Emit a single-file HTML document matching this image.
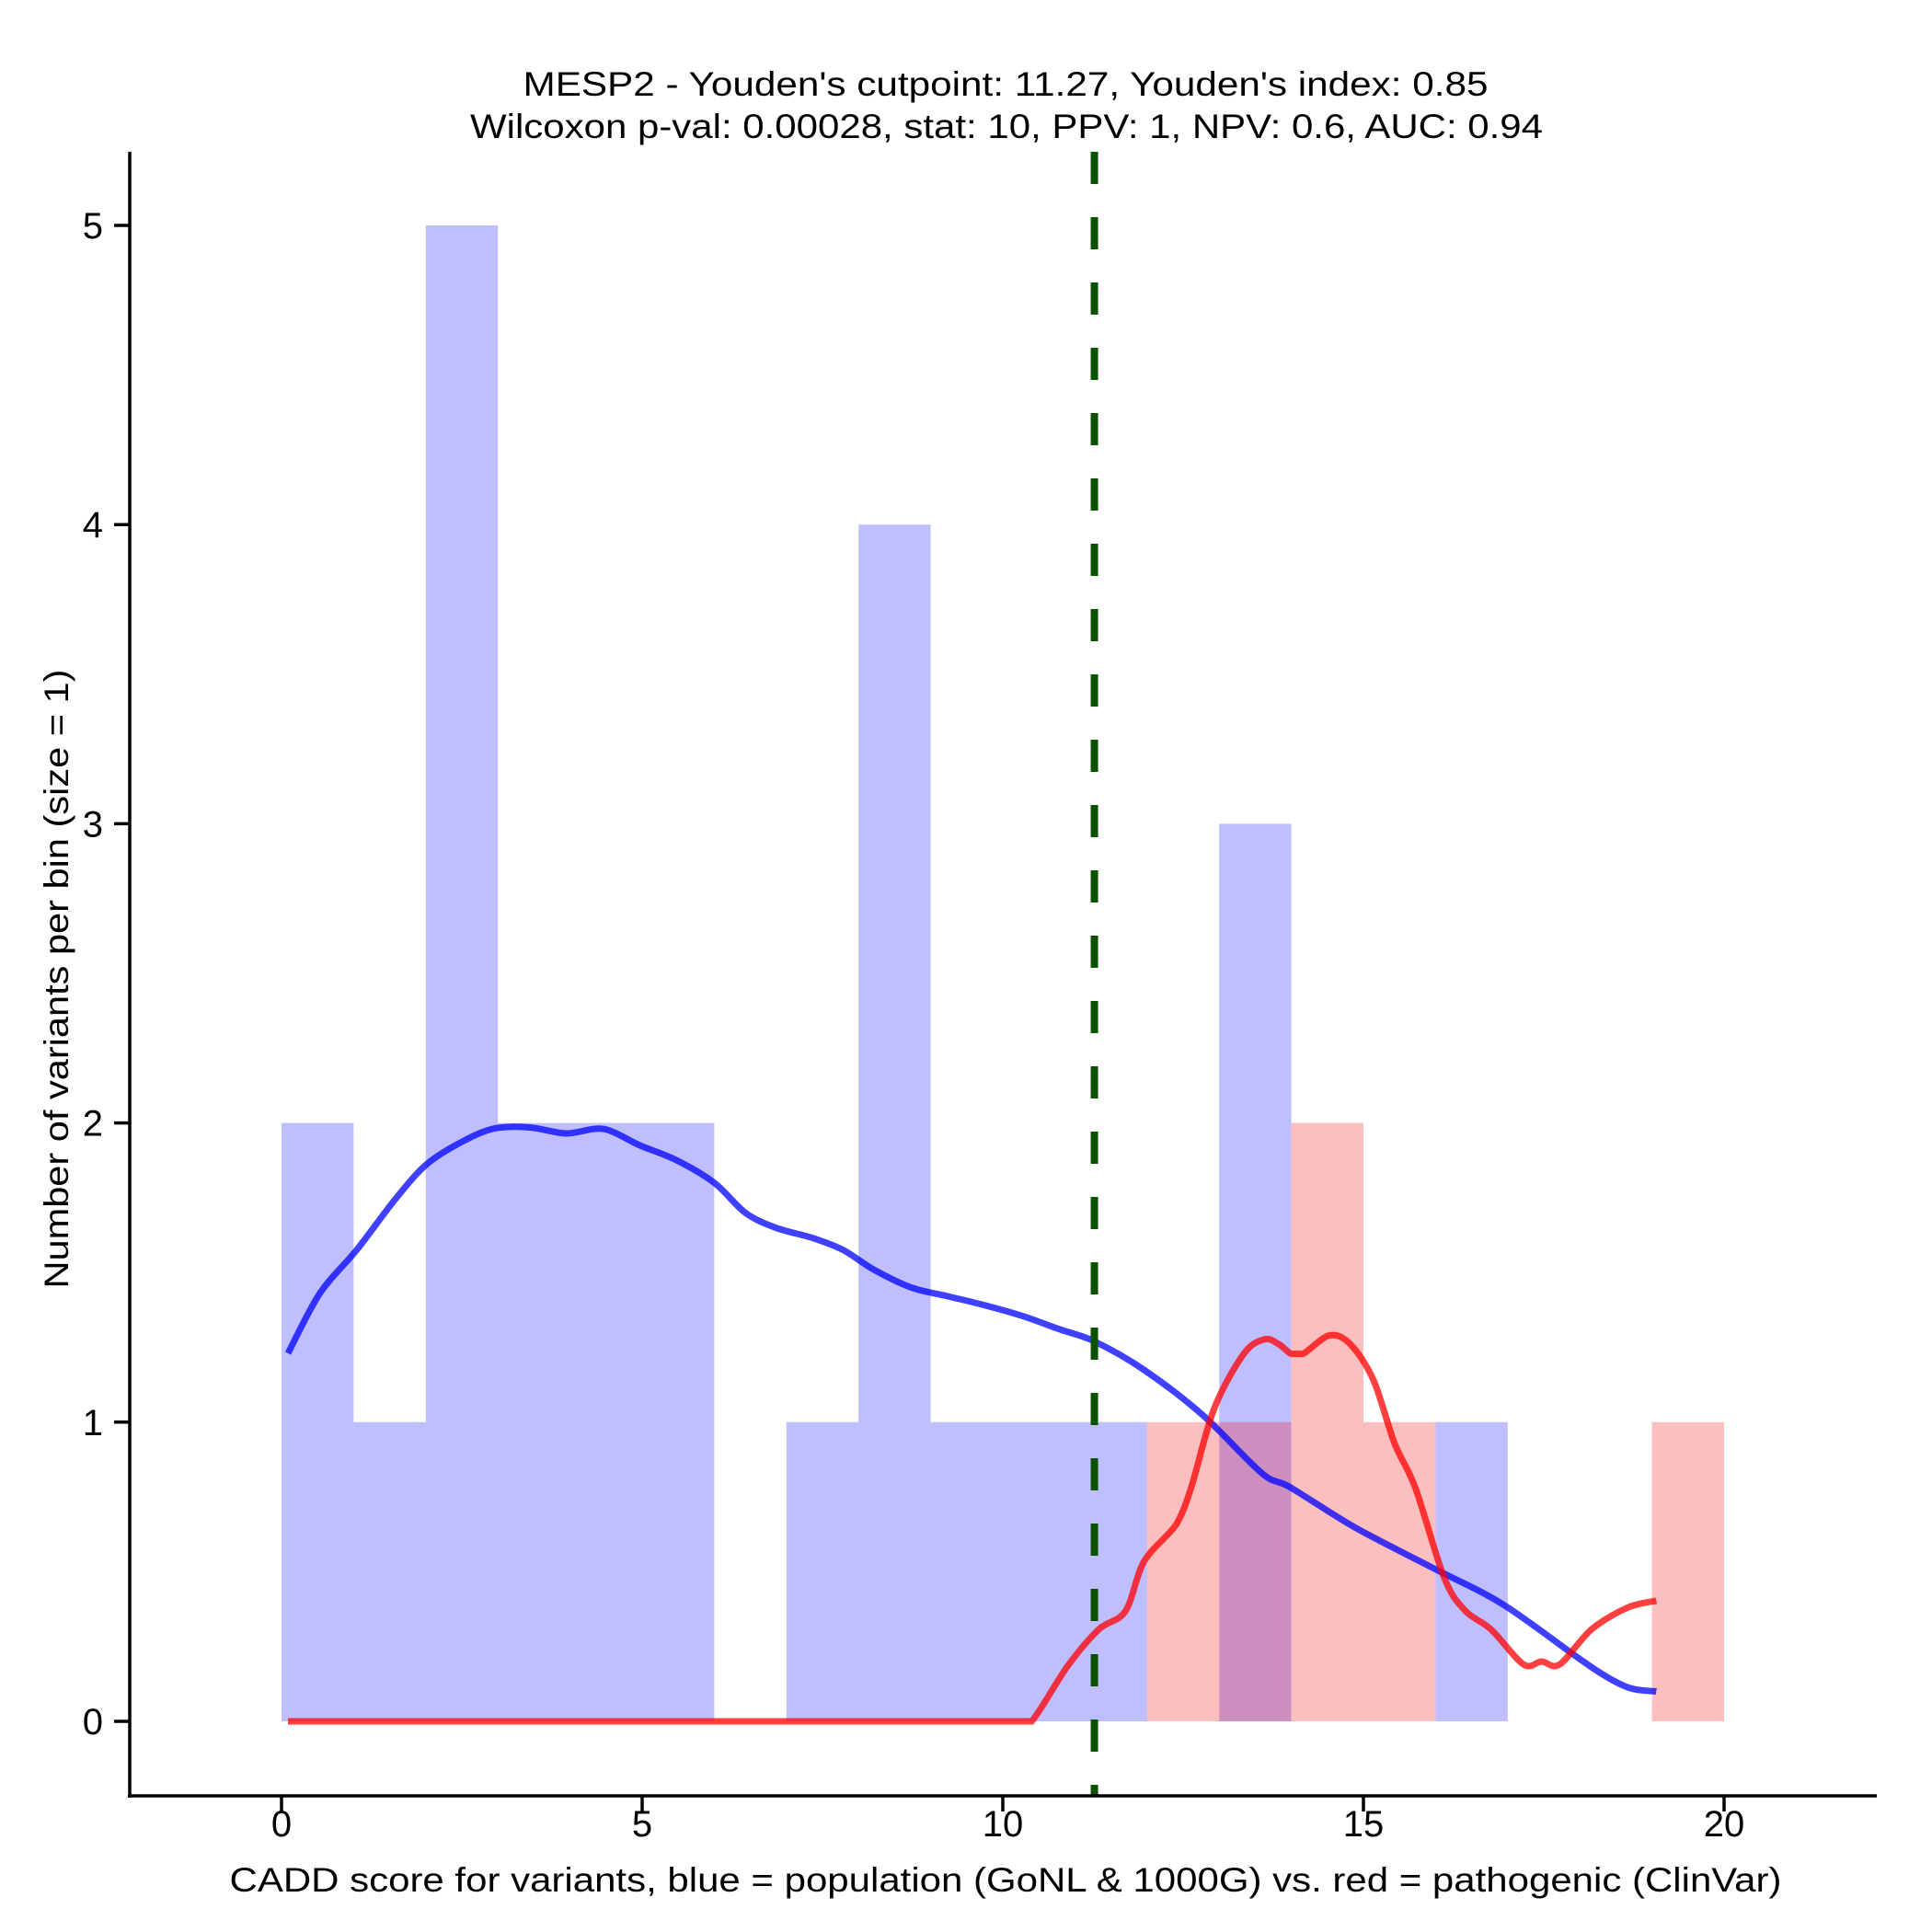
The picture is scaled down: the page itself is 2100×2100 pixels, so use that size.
<!DOCTYPE html>
<html><head><meta charset="utf-8"><style>
html,body{margin:0;padding:0;background:#fff}
svg{display:block}
text{font-family:"Liberation Sans",Arial,sans-serif;fill:#000}
</style></head><body>
<svg id="chart" width="2100" height="2100" viewBox="0 0 2100 2100">
<rect width="2100" height="2100" fill="#fff"/>
<g id="bars"></g>
<g id="curves"></g>
<g id="axes"></g>
<text x="1093" y="104" style="font-size:37px" text-anchor="middle" textLength="1049" lengthAdjust="spacingAndGlyphs">MESP2 - Youden's cutpoint: 11.27, Youden's index: 0.85</text>
<text x="1094" y="150" style="font-size:37px" text-anchor="middle" textLength="1166" lengthAdjust="spacingAndGlyphs">Wilcoxon p-val: 0.00028, stat: 10, PPV: 1, NPV: 0.6, AUC: 0.94</text>
<text x="1093" y="2056" style="font-size:37px" text-anchor="middle" textLength="1687" lengthAdjust="spacingAndGlyphs">CADD score for variants, blue = population (GoNL &amp; 1000G) vs. red = pathogenic (ClinVar)</text>
<text transform="translate(74,1064) rotate(-90)" style="font-size:37px" text-anchor="middle" textLength="673" lengthAdjust="spacingAndGlyphs">Number of variants per bin (size = 1)</text>
</svg>
<script>
const binStarts = [0,1,2,3,4,5,6,7,8,9,10,11,12,13,14,15,16,17,18,19];
const blueCounts = [2,1,5,2,2,2,0,1,4,1,1,1,0,3,0,0,1,0,0,0];
const redCounts  = [0,0,0,0,0,0,0,0,0,0,0,0,1,1,2,1,0,0,0,1];
const blueDensX = [0.09,0.53,1.04,1.56,1.98,2.41,2.92,3.44,3.95,4.46,4.97,5.48,6.0,6.43,6.85,7.37,7.79,8.21,8.73,9.25,9.76,10.27,10.79,11.27,11.95,12.77,13.59,14.0,14.89,15.96,16.94,18.08,18.65,19.06];
const blueDensY = [1.23,1.43,1.575,1.74,1.855,1.925,1.98,1.985,1.965,1.98,1.925,1.875,1.8,1.7,1.65,1.615,1.575,1.51,1.45,1.42,1.39,1.355,1.31,1.27,1.176,1.024,0.83,0.78,0.647,0.513,0.39,0.195,0.115,0.1];
const redDensX = [0.09,2,4,6,8,9.5,10.2,10.4,10.9,11.33,11.7,11.96,12.41,12.61,12.93,13.34,13.63,13.83,14.0,14.16,14.53,14.82,15.14,15.43,15.72,16.12,16.41,16.77,17.22,17.47,17.72,18.16,18.66,19.06];
const redDensY = [0,0,0,0,0,0,0,0,0.185,0.307,0.368,0.535,0.66,0.78,1.045,1.228,1.277,1.26,1.228,1.228,1.29,1.26,1.14,0.93,0.78,0.48,0.37,0.307,0.19,0.2,0.19,0.307,0.38,0.403];
const xTicks = [0,5,10,15,20];
const yTicks = [0,1,2,3,4,5];
const cutpoint = 11.27;

const NS='http://www.w3.org/2000/svg';
const X0=306, XU=78.4, Y0=1871, YU=325.2;
function sx(v){return X0+v*XU;}
function sy(v){return Y0-v*YU;}
function mk(tag,attrs,parent){const e=document.createElementNS(NS,tag);for(const k in attrs)e.setAttribute(k,attrs[k]);parent.appendChild(e);return e;}
const bars=document.getElementById('bars'), curves=document.getElementById('curves'), axes=document.getElementById('axes');

binStarts.forEach((b,i)=>{
  if(blueCounts[i]>0){
    const r=mk('rect',{x:sx(b),y:sy(blueCounts[i]),width:XU,height:blueCounts[i]*YU,fill:'rgba(0,0,255,0.25)'},bars);
    
    
  }
});
binStarts.forEach((b,i)=>{
  if(redCounts[i]>0){
    const r=mk('rect',{x:sx(b),y:sy(redCounts[i]),width:XU,height:redCounts[i]*YU,fill:'rgba(242,0,0,0.25)'},bars);
    
    
  }
});

function smoothPath(xs,ys){
  const p=xs.map((x,i)=>[sx(x),sy(ys[i])]);
  let d='M'+p[0][0]+','+p[0][1];
  for(let i=0;i<p.length-1;i++){
    const p0=p[i-1]||p[i],p1=p[i],p2=p[i+1],p3=p[i+2]||p2;
    const seg=p2[0]-p1[0];
    const t=0.16;
    let c1=[p1[0]+(p2[0]-p0[0])*t,p1[1]+(p2[1]-p0[1])*t];
    let c2=[p2[0]-(p3[0]-p1[0])*t,p2[1]-(p3[1]-p1[1])*t];
    c1[0]=Math.min(Math.max(c1[0],p1[0]),p1[0]+seg*0.45);
    c2[0]=Math.max(Math.min(c2[0],p2[0]),p2[0]-seg*0.45);
    if(p1[1]===p2[1]){c1[1]=p1[1];c2[1]=p2[1];}
    d+=' C'+c1+' '+c2+' '+p2;
  }
  return d;
}
const bl=mk('path',{d:smoothPath(blueDensX,blueDensY),fill:'none',stroke:'rgba(0,0,255,0.75)','stroke-width':7},curves);


const rl=mk('path',{d:smoothPath(redDensX,redDensY),fill:'none',stroke:'rgba(255,0,0,0.75)','stroke-width':7},curves);



const cl=mk('line',{x1:sx(cutpoint),x2:sx(cutpoint),y1:165,y2:1952,stroke:'#0a5200','stroke-width':8,'stroke-dasharray':'35 36'},curves);



const ya=mk('line',{x1:141,x2:141,y1:165,y2:1954,stroke:'#000','stroke-width':3.5},axes);


const xa=mk('line',{x1:139,x2:2040,y1:1952,y2:1952,stroke:'#000','stroke-width':3.5},axes);



xTicks.forEach(t=>{
  const tk=mk('line',{x1:sx(t),x2:sx(t),y1:1952,y2:1969,stroke:'#000','stroke-width':3.5},axes);
  
  
  const tx=mk('text',{x:sx(t),y:1996,style:'font-size:40px','text-anchor':'middle'},axes);
  tx.textContent=t;
  
  
});
yTicks.forEach(t=>{
  const tk=mk('line',{x1:124,x2:141,y1:sy(t),y2:sy(t),stroke:'#000','stroke-width':3.5},axes);
  
  
  const tx=mk('text',{x:112,y:sy(t)+14,style:'font-size:40px','text-anchor':'end'},axes);
  tx.textContent=t;
  
  
});
</script>
</body></html>
